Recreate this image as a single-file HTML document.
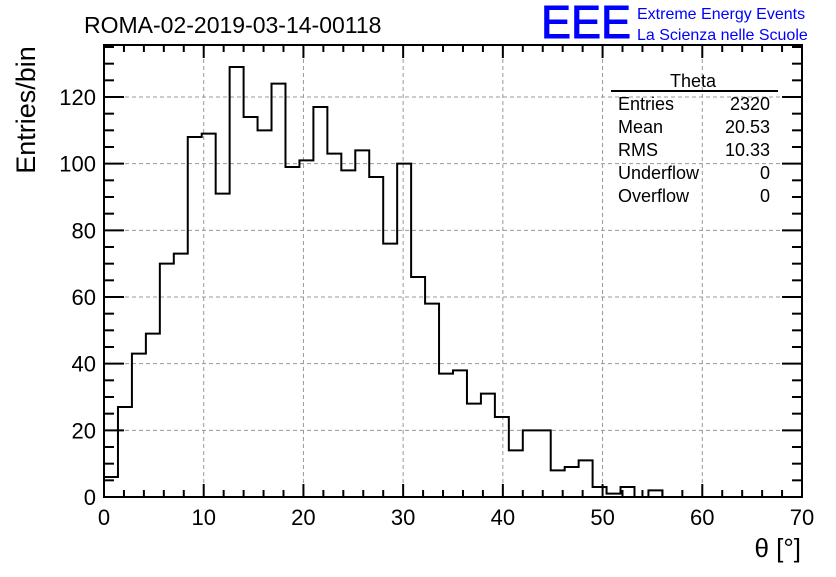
<!DOCTYPE html>
<html><head><meta charset="utf-8"><style>
body{margin:0;background:#fff}
svg text{font-family:"Liberation Sans",sans-serif}
</style></head><body>
<svg id="c" width="836" height="572" xmlns="http://www.w3.org/2000/svg">
<rect width="836" height="572" fill="#fff"/>
<text x="84" y="33" font-size="23">ROMA-02-2019-03-14-00118</text>
<text x="541" y="38" font-size="46" fill="#0000ff" stroke="#0000ff" stroke-width="1" textLength="90" lengthAdjust="spacingAndGlyphs">EEE</text>
<text x="637" y="19" font-size="16" fill="#0000ff">Extreme Energy Events</text>
<text x="637" y="40" font-size="16" fill="#0000ff">La Scienza nelle Scuole</text>
<g id="grid"></g>
<g id="ticks"></g>
<path id="hist" fill="none" stroke="#000" stroke-width="2"/>
<rect x="104" y="45" width="698" height="452" fill="none" stroke="#000" stroke-width="2"/>
<text transform="translate(35,110) rotate(-90)" text-anchor="middle" font-size="27">Entries/bin</text>
<text x="801" y="557" text-anchor="end" font-size="26">θ [°]</text>
<g>
<text x="693" y="87" text-anchor="middle" font-size="18">Theta</text>
<line x1="611" y1="91" x2="778" y2="91" stroke="#000" stroke-width="2"/>
<text x="618" y="110" font-size="18">Entries</text><text x="770" y="110" font-size="18" text-anchor="end">2320</text>
<text x="618" y="133" font-size="18">Mean</text><text x="770" y="133" font-size="18" text-anchor="end">20.53</text>
<text x="618" y="156" font-size="18">RMS</text><text x="770" y="156" font-size="18" text-anchor="end">10.33</text>
<text x="618" y="179" font-size="18">Underflow</text><text x="770" y="179" font-size="18" text-anchor="end">0</text>
<text x="618" y="202" font-size="18">Overflow</text><text x="770" y="202" font-size="18" text-anchor="end">0</text>
</g>
</svg>
<script>
const binWidth = 1.4;
const counts = [6,27,43,49,70,73,108,109,91,129,114,110,124,99,101,117,103,98,104,96,76,100,66,58,37,38,28,31,24,14,20,20,8,9,11,3,1,3,0,2,0,0,0,0,0,0,0,0,0,0];
const xTicks = [0,10,20,30,40,50,60,70];
const yTicks = [0,20,40,60,80,100,120];
const X0=104,X1=802,Y0=497,Y1=45,xmax=70,ymax=135.6;
const sx=v=>X0+(X1-X0)*v/xmax;
const sy=v=>Y0-(Y0-Y1)*v/ymax;
const NS="http://www.w3.org/2000/svg";
function mk(t,a,p){const e=document.createElementNS(NS,t);for(const k in a)e.setAttribute(k,a[k]);p.appendChild(e);return e;}
const grid=document.getElementById('grid'),ticks=document.getElementById('ticks');
xTicks.forEach(v=>{
 if(v>0&&v<xmax){const g=mk('line',{x1:sx(v),x2:sx(v),y1:Y1,y2:Y0,stroke:'#999','stroke-dasharray':'4,3'},grid);
 
 }
 const t=mk('text',{x:sx(v),y:525,'text-anchor':'middle','font-size':'22'},ticks);t.textContent=v;
 
 
});
yTicks.forEach(v=>{
 if(v>0){const g=mk('line',{x1:X0,x2:X1,y1:sy(v),y2:sy(v),stroke:'#999','stroke-dasharray':'4,3'},grid);
 
 }
 const t=mk('text',{x:96,y:sy(v)+8,'text-anchor':'end','font-size':'22'},ticks);t.textContent=v;
 
 
});
for(let v=0;v<=xmax;v+=2){const L=(v%10===0)?13:7;
 mk('line',{x1:sx(v),x2:sx(v),y1:Y0,y2:Y0-L,stroke:'#000','stroke-width':2},ticks);
 mk('line',{x1:sx(v),x2:sx(v),y1:Y1,y2:Y1+L,stroke:'#000','stroke-width':2},ticks);}
for(let v=0;v<=ymax;v+=5){const L=(v%20===0)?20:10;
 mk('line',{x1:X0,x2:X0+L,y1:sy(v),y2:sy(v),stroke:'#000','stroke-width':2},ticks);
 mk('line',{x1:X1,x2:X1-L,y1:sy(v),y2:sy(v),stroke:'#000','stroke-width':2},ticks);}
let d='M'+sx(0)+','+sy(0);
counts.forEach((c,i)=>{d+=' L'+sx(i*binWidth)+','+sy(c)+' L'+sx((i+1)*binWidth)+','+sy(c);});
d+=' L'+sx(counts.length*binWidth)+','+sy(0);
document.getElementById('hist').setAttribute('d',d);
</script>
</body></html>
